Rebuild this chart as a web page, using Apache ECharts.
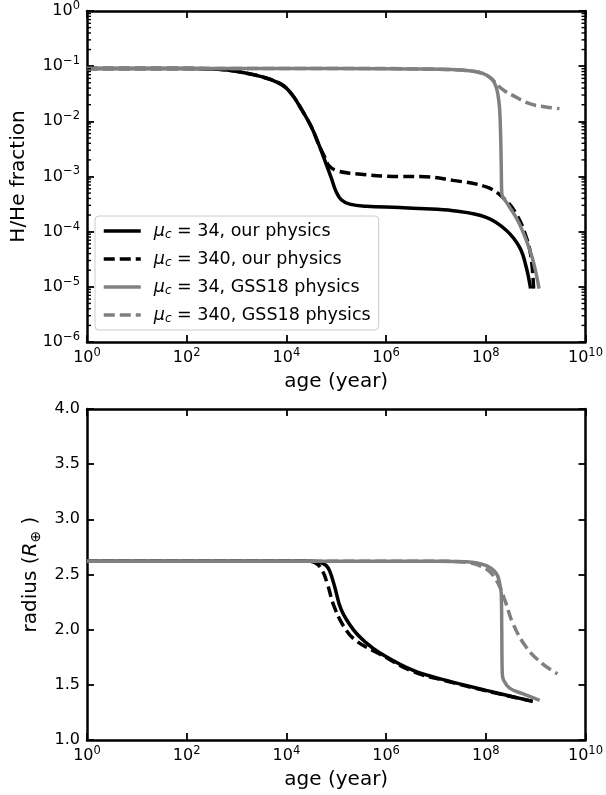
<!DOCTYPE html>
<html><head><meta charset="utf-8">
<script src="https://cdn.jsdelivr.net/npm/echarts@6/dist/echarts.min.js"></script>
<style>html,body{margin:0;padding:0;background:#fff}#c{width:606px;height:795px}</style>
</head><body><div id="c"></div>
<script>
// ---- top panel: H/He fraction vs age ----
const ageA = [1, 100, 500, 1260, 3160, 7940, 1.26e4, 2.0e4, 3.16e4, 4.7e4, 6.3e4, 7.9e4, 1.0e5, 1.26e5, 1.86e5, 4.0e5, 1.86e6, 4.7e6, 2.2e7, 1.02e8, 2.6e8, 4.8e8, 6.5e8, 7.9e8];
const hheA = [0.091, 0.091, 0.087, 0.0776, 0.0646, 0.0468, 0.0316, 0.0166, 0.00794, 0.00339, 0.00166, 0.000955, 0.000525, 0.00038, 0.000316, 0.000288, 0.000275, 0.000263, 0.00024, 0.000182, 0.000105, 5.13e-5, 2.24e-5, 9.3e-6];
const ageB = [1, 100, 500, 1260, 3160, 7940, 1.26e4, 2.0e4, 3.16e4, 4.7e4, 5.9e4, 7.1e4, 1.0e5, 1.86e5, 1.86e6, 4.7e6, 2.2e7, 1.02e8, 2.2e8, 4.1e8, 6.5e8, 8.1e8, 9.1e8];
const hheB = [0.091, 0.091, 0.087, 0.0776, 0.0646, 0.0468, 0.0316, 0.0166, 0.00794, 0.00339, 0.00224, 0.00158, 0.00129, 0.00115, 0.001, 0.001, 0.000851, 0.000646, 0.000417, 0.000209, 7.9e-5, 3.4e-5, 9.3e-6];
const ageC = [1, 1e5, 4.7e6, 4.7e7, 1.02e8, 1.5e8, 1.82e8, 1.95e8, 2.04e8, 2.09e8, 2.75e8, 4.4e8, 6.5e8, 8.9e8, 1.17e9];
const hheC = [0.091, 0.091, 0.089, 0.0822, 0.0692, 0.049, 0.024, 0.00912, 0.00158, 0.00049, 0.000316, 0.000158, 6.9e-5, 2.95e-5, 9.3e-6];
const ageD = [1, 1e5, 4.7e6, 4.7e7, 1.02e8, 1.45e8, 1.74e8, 2.4e8, 3.47e8, 7.6e8, 1.62e9, 3.0e9];
const hheD = [0.091, 0.091, 0.089, 0.0822, 0.0692, 0.054, 0.0447, 0.0355, 0.0295, 0.0209, 0.0182, 0.017];

// ---- bottom panel: radius vs age ----
const ageE = [1, 3.16e4, 4.7e4, 6.3e4, 7.4e4, 9.3e4, 1.26e5, 2.2e5, 4.0e5, 7.4e5, 3.5e6, 1.62e7, 1.02e8, 8.7e8];
const radE = [2.62, 2.62, 2.61, 2.58, 2.53, 2.39, 2.18, 2.0, 1.88, 1.79, 1.63, 1.54, 1.45, 1.35];
const ageF = [1, 2.8e4, 4.0e4, 5.2e4, 6.6e4, 8.9e4, 1.41e5, 2.5e5, 7.4e5, 3.5e6, 1.62e7, 1.02e8, 8.7e8];
const radF = [2.62, 2.62, 2.60, 2.54, 2.42, 2.22, 2.03, 1.9, 1.78, 1.62, 1.535, 1.445, 1.35];
const ageG = [1, 1e7, 4.1e7, 1.02e8, 1.62e8, 1.9e8, 2.04e8, 2.09e8, 2.14e8, 2.29e8, 3.0e8, 5.5e8, 1.2e9];
const radG = [2.62, 2.62, 2.615, 2.58, 2.51, 2.42, 2.33, 2.0, 1.6, 1.54, 1.47, 1.42, 1.36];
const ageH = [1, 1e7, 4.1e7, 1.02e8, 1.62e8, 2.4e8, 3.47e8, 6.5e8, 1.38e9, 2.75e9];
const radH = [2.62, 2.62, 2.61, 2.55, 2.45, 2.27, 2.06, 1.84, 1.69, 1.60];

// legend labels
const seriesNames = ['s34our', 's340our', 's34gss', 's340gss'];
const legendMu = ['34', '340', '34', '340'];
const legendPhys = ['our physics', 'our physics', 'GSS18 physics', 'GSS18 physics'];

// tick settings
const xMin = 1, xMax = 1e10;
const yTopMin = 1e-6, yTopMax = 1;
const yBotMin = 1.0, yBotMax = 4.0, yBotStep = 0.5;
const minorTickVals = [];
for (let k = -6; k < 0; k++) for (let m = 2; m <= 9; m++) minorTickVals.push(m * Math.pow(10, k));

const FONT = 'DejaVu Sans';
const zip = (a, b) => a.map((v, i) => [v, b[i]]);

const supRich = {
  b: {fontSize: 16, fontFamily: FONT, color: '#000', lineHeight: 22},
  s: {fontSize: 11.5, fontFamily: FONT, color: '#000', lineHeight: 10, verticalAlign: 'top'}
};
function logFmt(v) {
  const e = Math.round(Math.log10(v));
  return '{b|10}{s|' + (e < 0 ? '\u2212' + (-e) : e) + '}';
}
const lineAx = {show: true, onZero: false, lineStyle: {color: '#000', width: 2.5}};
const tickAx = {show: true, inside: true, length: 7, lineStyle: {color: '#000', width: 1.8}};

function xAxisDef(gi, pos, labels) {
  return {
    type: 'log', logBase: 10, gridIndex: gi, position: pos, min: xMin, max: xMax, interval: 2,
    axisLine: lineAx, axisTick: tickAx, splitLine: {show: false},
    axisLabel: {show: labels, formatter: logFmt, rich: supRich, margin: 5},
    name: labels ? 'age (year)' : '', nameLocation: 'middle', nameGap: 30,
    nameTextStyle: {fontSize: 20, fontFamily: FONT, color: '#000'}
  };
}

const lineSeries = (name, data, color, dashed, xi, yi) => ({
  name, type: 'line', data, xAxisIndex: xi, yAxisIndex: yi,
  showSymbol: false, symbol: 'none', smooth: 0.4,
  lineStyle: {color, width: 3.5, type: dashed ? [11, 5] : 'solid'},
  itemStyle: {color}, emphasis: {disabled: true}, z: 3
});

const option = {
  backgroundColor: '#fff',
  animation: false,
  grid: [
    {left: 87, top: 11, width: 499, height: 331},
    {left: 87, top: 409, width: 499, height: 331}
  ],
  xAxis: [xAxisDef(0, 'bottom', true), xAxisDef(0, 'top', false), xAxisDef(1, 'bottom', true), xAxisDef(1, 'top', false)],
  yAxis: [
    {type: 'log', logBase: 10, gridIndex: 0, position: 'left', min: yTopMin, max: yTopMax, interval: 1,
     axisLine: lineAx, axisTick: tickAx, splitLine: {show: false},
     axisLabel: {formatter: logFmt, rich: supRich, margin: 7},
     name: 'H/He fraction', nameLocation: 'middle', nameGap: 58,
     nameTextStyle: {fontSize: 20, fontFamily: FONT, color: '#000'}},
    {type: 'log', logBase: 10, gridIndex: 0, position: 'right', min: yTopMin, max: yTopMax, interval: 1,
     axisLine: lineAx, axisTick: tickAx, splitLine: {show: false}, axisLabel: {show: false}},
    {type: 'value', gridIndex: 1, position: 'left', min: yBotMin, max: yBotMax, interval: yBotStep,
     axisLine: lineAx, axisTick: tickAx, splitLine: {show: false},
     axisLabel: {formatter: v => v.toFixed(1), fontSize: 16, fontFamily: FONT, color: '#000', margin: 7},
     name: '{n|radius (}{r|R}{o|\u2295}{n| )}', nameLocation: 'middle', nameGap: 43,
     nameTextStyle: {fontSize: 20, fontFamily: FONT, color: '#000',
       rich: {n: {fontSize: 20, fontFamily: FONT, color: '#000', lineHeight: 26},
              r: {fontSize: 20, fontFamily: FONT, fontStyle: 'italic', color: '#000', lineHeight: 26},
              o: {fontSize: 14, fontFamily: FONT, color: '#000', lineHeight: 16, verticalAlign: 'bottom'}}}},
    {type: 'value', gridIndex: 1, position: 'right', min: yBotMin, max: yBotMax, interval: yBotStep,
     axisLine: lineAx, axisTick: tickAx, splitLine: {show: false}, axisLabel: {show: false}}
  ],
  legend: {
    data: seriesNames, orient: 'vertical', left: 95, top: 216,
    itemWidth: 37, itemHeight: 14, itemGap: 8,
    backgroundColor: 'rgba(255,255,255,0.8)', borderColor: '#cccccc', borderWidth: 1, borderRadius: 4,
    padding: [5, 8, 5, 7], selectedMode: false,
    lineStyle: {width: 3.5},
    itemStyle: {color: 'rgba(0,0,0,0)', borderColor: 'rgba(0,0,0,0)', borderWidth: 0, opacity: 0},
    formatter: name => {
      const i = seriesNames.indexOf(name);
      return '{mu|\u03bc}{sub|c}{t| = ' + legendMu[i] + ', ' + legendPhys[i] + '}';
    },
    textStyle: {
      fontSize: 17.5, fontFamily: FONT, color: '#000', lineHeight: 20, padding: [0, 0, 0, 8],
      rich: {
        mu: {fontSize: 17.5, fontFamily: FONT, fontStyle: 'italic', color: '#000', lineHeight: 20},
        sub: {fontSize: 12, fontFamily: FONT, fontStyle: 'italic', color: '#000', lineHeight: 13, verticalAlign: 'bottom'},
        t: {fontSize: 17.5, fontFamily: FONT, color: '#000', lineHeight: 20}
      }
    }
  },
  series: [
    lineSeries('s34our', zip(ageA, hheA), '#000000', false, 0, 0),
    lineSeries('s340our', zip(ageB, hheB), '#000000', true, 0, 0),
    lineSeries('s34gss', zip(ageC, hheC), '#808080', false, 0, 0),
    lineSeries('s340gss', zip(ageD, hheD), '#808080', true, 0, 0),
    lineSeries('s34our', zip(ageE, radE), '#000000', false, 2, 2),
    lineSeries('s340our', zip(ageF, radF), '#000000', true, 2, 2),
    lineSeries('s34gss', zip(ageG, radG), '#808080', false, 2, 2),
    lineSeries('s340gss', zip(ageH, radH), '#808080', true, 2, 2),
    {
      type: 'custom', xAxisIndex: 0, yAxisIndex: 0, silent: true, z: 5,
      data: minorTickVals.map(v => [xMin, v]),
      renderItem: (params, api) => {
        const v = api.value(1);
        const L = api.coord([xMin, v]);
        const R = api.coord([xMax, v]);
        const st = {stroke: '#000', lineWidth: 1.4};
        return {type: 'group', children: [
          {type: 'line', shape: {x1: L[0], y1: L[1], x2: L[0] + 4, y2: L[1]}, style: st},
          {type: 'line', shape: {x1: R[0] - 4, y1: R[1], x2: R[0], y2: R[1]}, style: st}
        ]};
      }
    }
  ]
};
const chart = echarts.init(document.getElementById('c'), null, {renderer: 'canvas'});
chart.setOption(option);
</script>
</body></html>
